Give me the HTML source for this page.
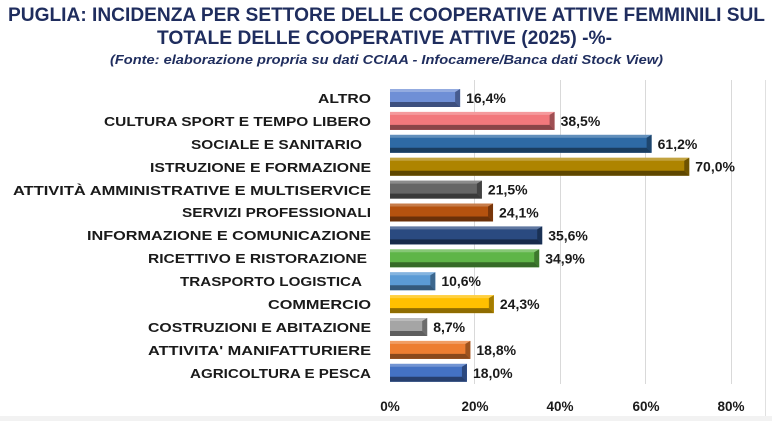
<!DOCTYPE html>
<html><head><meta charset="utf-8"><style>
html,body{margin:0;padding:0;background:#fff;}
svg{display:block;}
text{font-family:"Liberation Sans",sans-serif;}
.n{font-family:"Liberation Sans Narrow","Liberation Sans",sans-serif;}
</style></head><body>
<svg width="772" height="421" viewBox="0 0 772 421" xmlns="http://www.w3.org/2000/svg">
<rect x="0" y="0" width="772" height="421" fill="#fff"/>
<rect x="0" y="416" width="772" height="5" fill="#f2f2f2"/>
<line x1="765.5" y1="80" x2="765.5" y2="416" stroke="#e0e0e0"/>
<text class="n" x="8" y="21" font-size="19" font-weight="bold" fill="#1f2d5e" textLength="757" lengthAdjust="spacingAndGlyphs">PUGLIA: INCIDENZA PER SETTORE DELLE COOPERATIVE ATTIVE FEMMINILI SUL</text>
<text class="n" x="157" y="44" font-size="19" font-weight="bold" fill="#1f2d5e" textLength="455" lengthAdjust="spacingAndGlyphs">TOTALE DELLE COOPERATIVE ATTIVE (2025)  -%-</text>
<text class="n" x="110" y="64" font-size="13" font-weight="bold" font-style="italic" fill="#1f2d5e" textLength="553" lengthAdjust="spacingAndGlyphs">(Fonte: elaborazione propria su dati CCIAA - Infocamere/Banca dati Stock View)</text>
<g stroke="#d9d9d9" stroke-width="1">
<line x1="474.5" y1="80" x2="474.5" y2="384"/>
<line x1="560.5" y1="80" x2="560.5" y2="384"/>
<line x1="645.5" y1="80" x2="645.5" y2="384"/>
<line x1="731.5" y1="80" x2="731.5" y2="384"/>
</g>
<g font-size="13.5" font-weight="bold" fill="#1a1a1a" text-anchor="middle">
<text x="390" y="411">0%</text><text x="475" y="411">20%</text><text x="560" y="411">40%</text><text x="646" y="411">60%</text><text x="731" y="411">80%</text>
</g>
<g id="bars"></g>
<g class="n" font-size="13" font-weight="bold" fill="#1a1a1a">
<text class="n" x="318" y="103" textLength="53" lengthAdjust="spacingAndGlyphs">ALTRO</text>
<text class="n" x="104" y="126" textLength="267" lengthAdjust="spacingAndGlyphs">CULTURA SPORT E TEMPO LIBERO</text>
<text class="n" x="191" y="149" textLength="171" lengthAdjust="spacingAndGlyphs">SOCIALE E SANITARIO</text>
<text class="n" x="150" y="172" textLength="221" lengthAdjust="spacingAndGlyphs">ISTRUZIONE E FORMAZIONE</text>
<text class="n" x="13" y="195" textLength="358" lengthAdjust="spacingAndGlyphs">ATTIVITÀ AMMINISTRATIVE  E MULTISERVICE</text>
<text class="n" x="182" y="217" textLength="189" lengthAdjust="spacingAndGlyphs">SERVIZI PROFESSIONALI</text>
<text class="n" x="87" y="240" textLength="284" lengthAdjust="spacingAndGlyphs">INFORMAZIONE E COMUNICAZIONE</text>
<text class="n" x="148" y="263" textLength="219" lengthAdjust="spacingAndGlyphs">RICETTIVO E RISTORAZIONE</text>
<text class="n" x="180" y="286" textLength="182" lengthAdjust="spacingAndGlyphs">TRASPORTO LOGISTICA</text>
<text class="n" x="268" y="309" textLength="103" lengthAdjust="spacingAndGlyphs">COMMERCIO</text>
<text class="n" x="148" y="332" textLength="223" lengthAdjust="spacingAndGlyphs">COSTRUZIONI E ABITAZIONE</text>
<text class="n" x="148" y="355" textLength="223" lengthAdjust="spacingAndGlyphs">ATTIVITA' MANIFATTURIERE</text>
<text class="n" x="190" y="378" textLength="181" lengthAdjust="spacingAndGlyphs">AGRICOLTURA E PESCA</text>
</g>
<script>
(function(){
var data=[[16.4,"#6f8fd6","#3d4f7e"],[38.5,"#f2787c","#8a4548"],[61.2,"#2e6aa5","#1a3d60"],[70.0,"#ae8400","#5e4700"],[21.5,"#666666","#3a3a3a"],[24.1,"#b5520f","#6a3009"],[35.6,"#2a4a80","#172a4a"],[34.9,"#5fb548","#356a27"],[10.6,"#5b9bd5","#345a7c"],[24.3,"#ffc000","#8f6c00"],[8.7,"#a5a5a5","#5e5e5e"],[18.8,"#ed7d31","#8a481c"],[18.0,"#4472c4","#273f6e"]];
var g=document.getElementById("bars"),ns="http://www.w3.org/2000/svg";
function el(t,a){var e=document.createElementNS(ns,t);for(var k in a)e.setAttribute(k,a[k]);g.appendChild(e);return e;}
data.forEach(function(d,i){
 var cy=98+i*22.9,h=18,y=cy-h/2,x=390,w=d[0]*4.275;
 el("rect",{x:x,y:y,width:w,height:h,fill:d[1]});
 el("polygon",{points:(x)+","+(y+h)+" "+(x+w)+","+(y+h)+" "+(x+w-5)+","+(y+h-5)+" "+(x)+","+(y+h-5),fill:d[2]});
 el("polygon",{points:(x+w)+","+y+" "+(x+w)+","+(y+h)+" "+(x+w-5)+","+(y+h-5)+" "+(x+w-5)+","+(y+3),fill:d[2],opacity:"0.8"});
 el("polygon",{points:x+","+y+" "+(x+w)+","+y+" "+(x+w-5)+","+(y+3)+" "+x+","+(y+3),fill:"#fff",opacity:"0.25"});
 var t=el("text",{x:x+w+6,y:cy+5,"font-size":"14","font-weight":"bold",fill:"#1a1a1a"});
 t.textContent=d[0].toFixed(1).replace(".",",")+"%";
});
})();
</script>
</svg>
</body></html>
